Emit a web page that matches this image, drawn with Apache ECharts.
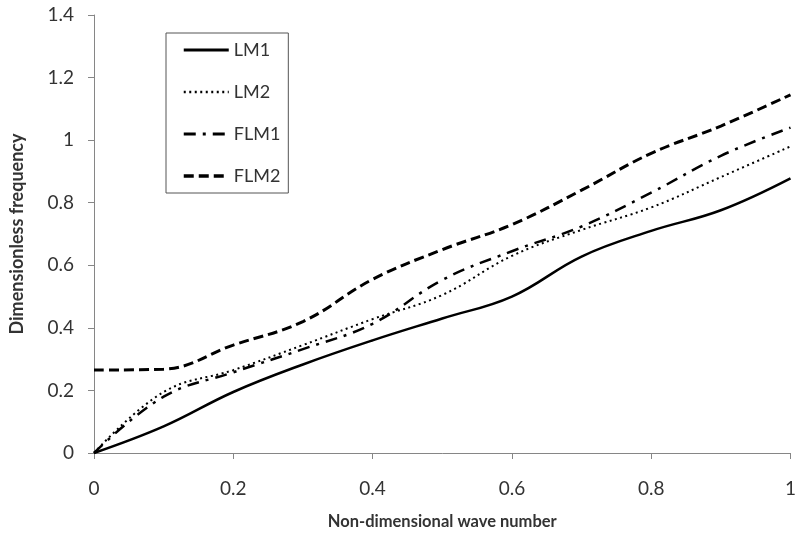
<!DOCTYPE html>
<html>
<head>
<meta charset="utf-8">
<script src="https://cdn.jsdelivr.net/npm/echarts@6/dist/echarts.min.js"></script>
<style>
  html, body { margin: 0; padding: 0; background: #fff; }
  #chart { width: 799px; height: 541px; }
</style>
</head>
<body>
<div id="chart"></div>
<script>
// Wave numbers sampled along the x axis
const waveNumber = [0, 0.1, 0.2, 0.3, 0.4, 0.5, 0.6, 0.7, 0.8, 0.9, 1.0];

// Dimensionless frequency for each model
const lm1  = [0, 0.085, 0.195, 0.283, 0.360, 0.430, 0.500, 0.628, 0.710, 0.776, 0.878];
const lm2  = [0, 0.195, 0.265, 0.345, 0.428, 0.505, 0.630, 0.713, 0.785, 0.882, 0.980];
const flm1 = [0, 0.180, 0.258, 0.332, 0.413, 0.553, 0.645, 0.724, 0.832, 0.950, 1.040];
const flm2 = [0.265, 0.268, 0.345, 0.420, 0.555, 0.650, 0.730, 0.840, 0.958, 1.045, 1.145];

// Axis tick labels
const xTickLabels = ['0', '0.2', '0.4', '0.6', '0.8', '1'];
const yTickLabels = ['0', '0.2', '0.4', '0.6', '0.8', '1', '1.2', '1.4'];

const seriesNames = ['LM1', 'LM2', 'FLM1', 'FLM2'];

const pairs = arr => waveNumber.map((x, i) => [x, arr[i]]);

const axisColor = '#868686';
const textColor = '#333333';
const font = 'Lato, "Open Sans", sans-serif';

// Stroke per model: width and dash pattern
const strokes = {
  LM1:  { width: 2.5, type: 'solid' },
  LM2:  { width: 2,   type: [2, 3.5] },
  FLM1: { width: 2.5, type: [12, 7, 3, 7] },
  FLM2: { width: 3,   type: [10, 5] }
};

const chart = echarts.init(document.getElementById('chart'), null, { renderer: 'canvas' });

const lineSeries = (name, data) => ({
  name,
  type: 'line',
  data: pairs(data),
  smooth: 0.4,
  symbol: 'none',
  animation: false,
  lineStyle: { color: '#000', width: strokes[name].width, type: strokes[name].type, cap: 'butt' },
  itemStyle: { color: '#000' }
});

chart.setOption({
  backgroundColor: '#fff',
  animation: false,
  grid: { left: 93, right: 6, top: 15, bottom: 88, containLabel: false },
  legend: {
    orient: 'vertical',
    left: 166,
    top: 33,
    padding: [8, 8, 8, 16],
    borderColor: '#555',
    borderWidth: 1,
    itemWidth: 45,
    itemHeight: 14,
    itemGap: 24,
    data: seriesNames.map(n => ({
      name: n,
      lineStyle: { color: '#000', width: strokes[n].width + 0.5, type: strokes[n].type }
    })),
    itemStyle: { opacity: 0 },
    textStyle: { fontFamily: font, fontSize: 18, color: textColor }
  },
  xAxis: {
    type: 'value',
    min: 0,
    max: 1,
    interval: 0.2,
    name: 'Non-dimensional wave number',
    nameLocation: 'middle',
    nameGap: 60,
    nameTextStyle: { fontFamily: font, fontSize: 16.5, fontWeight: 'bold', color: textColor },
    axisLine: { lineStyle: { color: axisColor, width: 1 } },
    axisTick: { show: true, inside: false, length: 6, lineStyle: { color: axisColor } },
    splitLine: { show: false },
    axisLabel: {
      margin: 26,
      fontFamily: font,
      fontSize: 19,
      color: textColor,
      formatter: v => xTickLabels[Math.round(v / 0.2)]
    }
  },
  yAxis: {
    type: 'value',
    min: 0,
    max: 1.4,
    interval: 0.2,
    name: 'Dimensionless frequency',
    nameLocation: 'middle',
    nameGap: 68,
    nameTextStyle: { fontFamily: font, fontSize: 18, fontWeight: 'bold', color: textColor },
    axisLine: { show: true, lineStyle: { color: axisColor, width: 1 } },
    axisTick: { show: true, inside: false, length: 6, lineStyle: { color: axisColor } },
    splitLine: { show: false },
    axisLabel: {
      margin: 20,
      fontFamily: font,
      fontSize: 19,
      color: textColor,
      formatter: v => yTickLabels[Math.round(v / 0.2)]
    }
  },
  series: [
    lineSeries('LM1', lm1),
    lineSeries('LM2', lm2),
    lineSeries('FLM1', flm1),
    lineSeries('FLM2', flm2)
  ]
});
</script>
</body>
</html>
